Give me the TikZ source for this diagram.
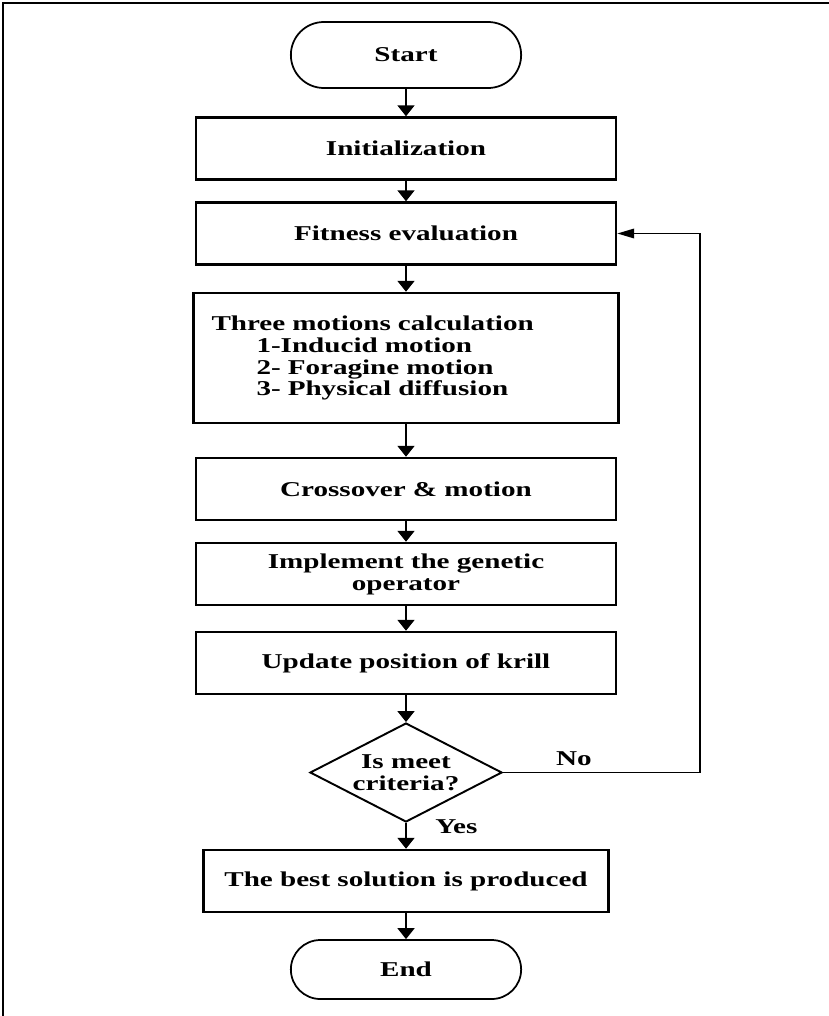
\documentclass[tikz,border=0pt]{standalone}
\usepackage{fontspec}
\setmainfont{Liberation Serif}[FakeStretch=1.38]
\usepackage{tikz}
\usetikzlibrary{arrows.meta,shapes}
\usetikzlibrary{positioning}
\tikzstyle{term} = [draw, rounded rectangle, line width=1pt, minimum width=4.84cm,
    minimum height=1.32cm]
\tikzstyle{block} = [draw, rectangle, line width=1.4pt, minimum width=8.4cm,
    minimum height=1.24cm, align=center]
\tikzstyle{decision} = [draw, diamond, line width=1.1pt, aspect=1.94,
    minimum width=3.84cm, minimum height=1.98cm, inner sep=0pt, align=center]
\tikzstyle{line} = [draw, line width=1.1pt, -{Triangle[length=2.2mm,width=3.4mm]}]
\tikzstyle{loopline} = [draw, line width=1.1pt, -{Triangle[length=3.4mm,width=1.9mm]}]

\begin{document}
\begin{tikzpicture}[node distance = 1.8cm, auto, font=\bfseries\fontsize{12}{12.5}\selectfont]
  \useasboundingbox (0,0) rectangle (16.56,-20.32);
  % Frame
  \draw [line width=1pt] (0.06,-20.6) -- (0.06,-0.06) -- (16.8,-0.06);
  % Place nodes
  \node [term] (st) at (8.12,-1.10) {Start};
  \node [block, below of=st, node distance=1.87cm] (init) {Initialization};
  \node [block, below of=init, node distance=1.70cm] (fit) {Fitness evaluation};
  \node [block, below of=fit, node distance=2.49cm, minimum height=2.6cm,
    minimum width=8.5cm, text width=7.78cm, inner xsep=0.36cm, align=left] (calc)
  {Three motions calculation\\
   \hspace*{0.9cm}1-Inducid motion\\
   \hspace*{0.9cm}2- Foragine motion\\
   \hspace*{0.9cm}3- Physical diffusion};
  \node [block, below of=calc, node distance=2.62cm] (cross) {Crossover \& motion};
  \node [block, below of=cross, node distance=1.70cm] (gen)
  {Implement the genetic\\operator};
  \node [block, below of=gen, node distance=1.78cm] (upd) {Update position of krill};
  \node [decision, below of=upd, node distance=2.19cm] (dec) {Is meet\\criteria?};
  \node [block, below of=dec, node distance=2.17cm, minimum width=8.1cm] (best)
  {The best solution is produced};
  \node [term, below of=best, node distance=1.77cm, minimum height=1.18cm] (stop) {End};
  % Connect nodes
  \draw [line] (st) -- (init);
  \draw [line] (init) -- (fit);
  \draw [line] (fit) -- (calc);
  \draw [line] (calc) -- (cross);
  \draw [line] (cross) -- (gen);
  \draw [line] (gen) -- (upd);
  \draw [line] (upd) -- (dec);
  \draw [line] (dec) -- node [pos=0.15, right=0.45cm] {Yes} (best);
  \draw [line] (best) -- (stop);
  \draw [loopline] (dec.east) -- node [above, pos=0.36] {No} ++(3.94,0) |- (fit.east);
\end{tikzpicture}
\end{document}
